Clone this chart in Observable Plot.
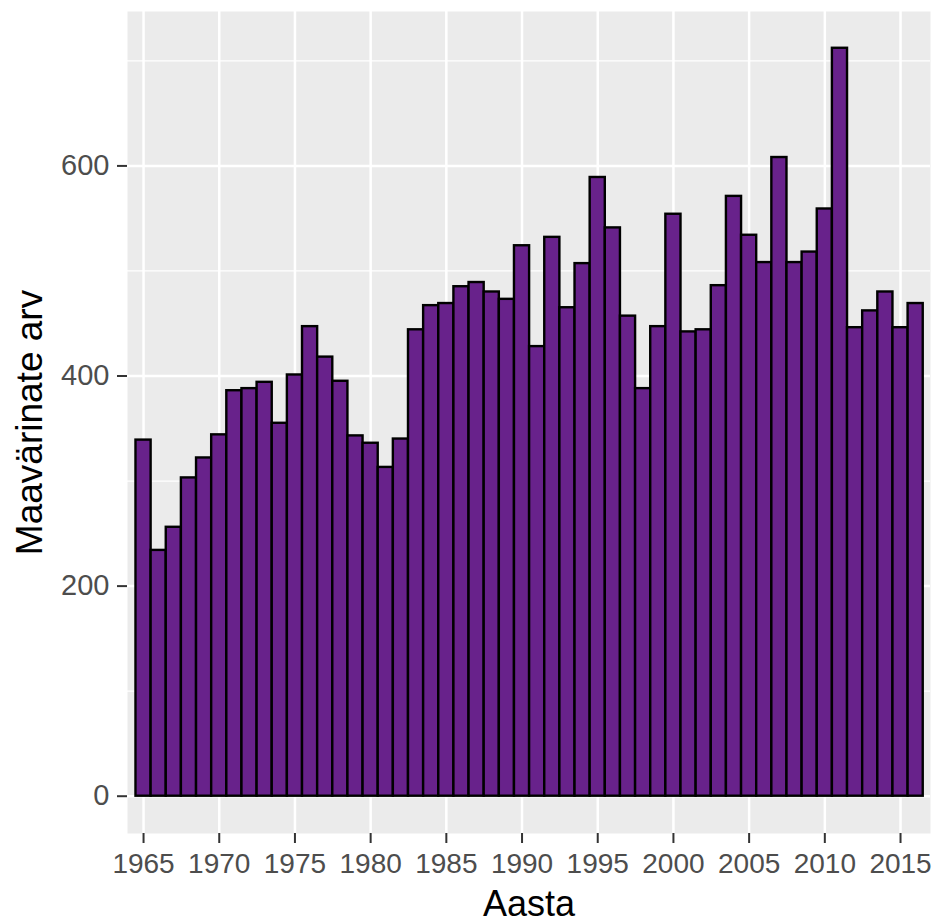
<!DOCTYPE html>
<html><head><meta charset="utf-8">
<script src="https://cdn.jsdelivr.net/npm/d3@7"></script>
<script src="https://cdn.jsdelivr.net/npm/@observablehq/plot@0.6"></script>
<style>html,body{margin:0;padding:0;background:#fff;} svg{display:block}</style>
</head><body><div id="chart"></div>
<script>
const years = [1965,1966,1967,1968,1969,1970,1971,1972,1973,1974,1975,1976,1977,1978,1979,1980,1981,1982,1983,1984,1985,1986,1987,1988,1989,1990,1991,1992,1993,1994,1995,1996,1997,1998,1999,2000,2001,2002,2003,2004,2005,2006,2007,2008,2009,2010,2011,2012,2013,2014,2015,2016];
const counts = [339,234,256,303,322,344,386,388,394,355,401,447,418,395,343,336,313,340,444,467,469,485,489,480,473,524,428,532,465,507,589,541,457,388,447,554,442,444,486,571,534,508,608,508,518,559,712,446,462,480,446,469];
const xTicks = [1965,1970,1975,1980,1985,1990,1995,2000,2005,2010,2015];
const yTicks = [0,200,400,600];
const yMinor = [100,300,500,700];
const xTitle = ["Aasta"];
const yTitle = ["Maavärinate arv"];

const data = years.map((y, i) => ({year: y, count: counts[i]}));

const chart = Plot.plot({
  width: 939,
  height: 923,
  marginLeft: 127,
  marginRight: 9,
  marginTop: 11,
  marginBottom: 90,
  x: {domain: [1963.94, 2016.98]},
  y: {domain: [-35.5, 747]},
  style: {fontFamily: "'Liberation Sans', Arial, sans-serif", background: "white", overflow: "visible"},
  marks: [
    Plot.frame({fill: "#EBEBEB", stroke: null}),
    Plot.ruleY(yMinor, {stroke: "white", strokeWidth: 1.3}),
    Plot.ruleY(yTicks, {stroke: "white", strokeWidth: 2.5}),
    Plot.ruleX(xTicks, {stroke: "white", strokeWidth: 2.5}),
    Plot.rectY(data, {x1: d => d.year - 0.5, x2: d => d.year + 0.5, y: "count", inset: 0, fill: "#68228B", stroke: "black", strokeWidth: 2.4}),
    Plot.axisX({ticks: xTicks, tickFormat: d => String(d), tickSize: 10, tickPadding: 10, fontSize: 28, fill: "#4D4D4D", stroke: "#333333", strokeWidth: 2, label: null}),
    Plot.axisY({ticks: yTicks, tickFormat: d => String(d), tickSize: 10, tickPadding: 8, fontSize: 29, fill: "#4D4D4D", stroke: "#333333", strokeWidth: 2, label: null}),
    Plot.text(xTitle, {text: d => d, frameAnchor: "bottom", dy: 71, fontSize: 36, fill: "black", lineAnchor: "middle", textAnchor: "middle"}),
    Plot.text(yTitle, {text: d => d, frameAnchor: "left", dx: -97, rotate: -90, fontSize: 37, fill: "black", lineAnchor: "middle", textAnchor: "middle"})
  ]
});
document.getElementById("chart").appendChild(chart);
</script>
</body></html>
